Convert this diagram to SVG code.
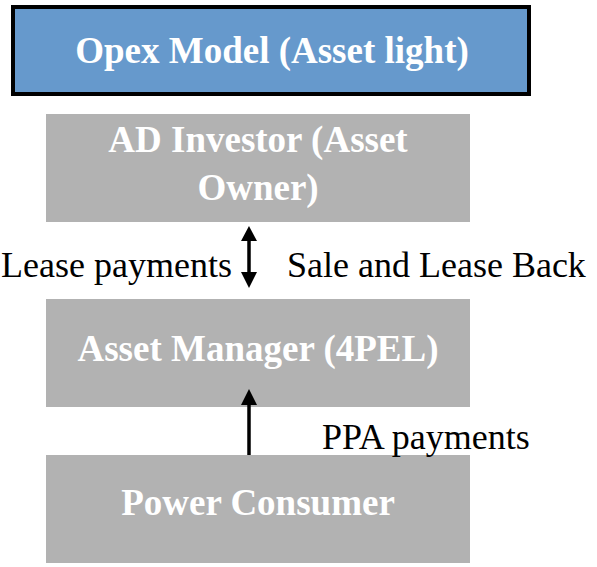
<svg xmlns="http://www.w3.org/2000/svg" width="597" height="567" viewBox="0 0 597 567">
  <style>
    .box { fill: #b2b2b2; }
    .serif { font-family: "Liberation Serif", "Times New Roman", Times, "DejaVu Serif", serif; }
    .title { font-weight: bold; fill: #ffffff; text-anchor: middle; font-size: 37px; }
    .label { fill: #000000; font-size: 36px; }
    .shaft { stroke: #000000; stroke-width: 3.5; fill: none; }
    .head { fill: #000000; }
  </style>
  <rect width="597" height="567" fill="#ffffff"/>

  <g id="opex-model">
    <rect x="13" y="7" width="516" height="87" fill="#6699cc" stroke="#000000" stroke-width="4"/>
    <text class="serif title" x="272" y="63">Opex Model (Asset light)</text>
  </g>

  <g id="ad-investor">
    <rect class="box" x="46" y="114" width="424" height="108"/>
    <text class="serif title" x="258" y="152">AD Investor (Asset</text>
    <text class="serif title" x="258" y="200">Owner)</text>
  </g>

  <g id="asset-manager">
    <rect class="box" x="46" y="299" width="424" height="108"/>
    <text class="serif title" x="258" y="361">Asset Manager (4PEL)</text>
  </g>

  <g id="power-consumer">
    <rect class="box" x="46" y="455" width="424" height="108"/>
    <text class="serif title" x="258" y="515">Power Consumer</text>
  </g>

  <g id="connectors">
    <!-- two-way link between investor and manager -->
    <line class="shaft" x1="249" y1="238" x2="249" y2="275"/>
    <polygon class="head" points="249,226 241,241 257,241"/>
    <polygon class="head" points="249,288 241,272 257,272"/>
    <!-- consumer pays manager -->
    <line class="shaft" x1="249" y1="402" x2="249" y2="455"/>
    <polygon class="head" points="249,389 241,405 257,405"/>
  </g>

  <g id="labels">
    <text class="serif label" x="232" y="277" text-anchor="end">Lease payments</text>
    <text class="serif label" x="287" y="277">Sale and Lease Back</text>
    <text class="serif label" x="322" y="449">PPA payments</text>
  </g>
</svg>
